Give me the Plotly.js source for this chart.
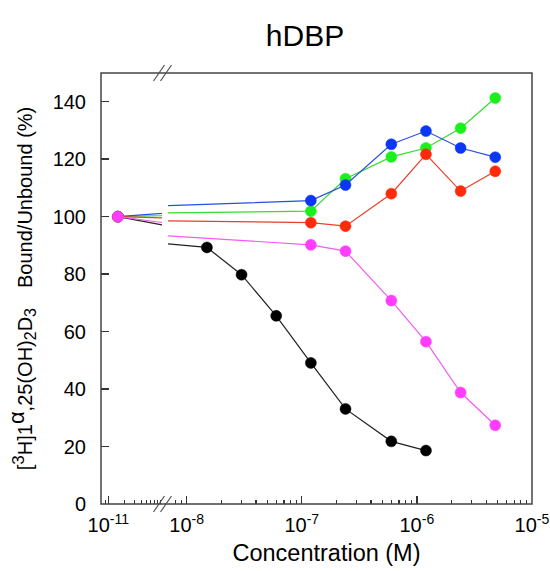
<!DOCTYPE html>
<html>
<head>
<meta charset="utf-8">
<script src="https://cdn.plot.ly/plotly-3.0.1.min.js"></script>
<style>html,body{margin:0;padding:0;background:#fff;}#chart{width:550px;height:571px;}</style>
</head>
<body>
<div id="chart"></div>
<script>
// ---- data ----
const controlConc = 1.5e-11;
const controlValue = 100;
const blackConc = [1.5e-8, 3e-8, 6e-8, 1.2e-7, 2.4e-7, 6e-7, 1.2e-6];
const blackVals = [89.3, 79.8, 65.5, 49.1, 33.1, 21.8, 18.6];
const colorConc = [1.2e-7, 2.4e-7, 6e-7, 1.2e-6, 2.4e-6, 4.8e-6];
const greenVals = [101.9, 113.2, 120.8, 123.9, 130.8, 141.3];
const blueVals = [105.6, 111.0, 125.2, 129.8, 123.9, 120.7];
const redVals = [97.9, 96.7, 108.0, 121.7, 108.9, 115.8];
const magentaVals = [90.2, 88.0, 70.8, 56.5, 38.8, 27.4];
const leftTickVals = [1e-11];
const leftTickText = ['10<sup>-11</sup>'];
const rightTickVals = [1e-8, 1e-7, 1e-6, 1e-5];
const rightTickText = ['10<sup>-8</sup>', '10<sup>-7</sup>', '10<sup>-6</sup>', '10<sup>-5</sup>'];
const leftMinor = [9e-12, 2e-11, 3e-11, 4e-11, 5e-11, 6e-11, 7e-11, 8e-11, 9e-11];
const rightMinor = [8e-9, 9e-9,
  2e-8, 3e-8, 4e-8, 5e-8, 6e-8, 7e-8, 8e-8, 9e-8,
  2e-7, 3e-7, 4e-7, 5e-7, 6e-7, 7e-7, 8e-7, 9e-7,
  2e-6, 3e-6, 4e-6, 5e-6, 6e-6, 7e-6, 8e-6, 9e-6];

const series = [
  {name: 'black', conc: blackConc, vals: blackVals, color: '#000000', line: '#222222'},
  {name: 'green', conc: colorConc, vals: greenVals, color: '#1cf01c', line: '#33dd33'},
  {name: 'blue', conc: colorConc, vals: blueVals, color: '#0a36f5', line: '#2a4ee0'},
  {name: 'red', conc: colorConc, vals: redVals, color: '#ff2a0a', line: '#e8402a'},
  {name: 'magenta', conc: colorConc, vals: magentaVals, color: '#ff3cff', line: '#f25cf2'}
];

const traces = [];
// carrier for the shared x-axis title (no data), drawn first so it sits underneath
traces.push({type: 'scatter', x: [], y: [], xaxis: 'x3', yaxis: 'y', showlegend: false, hoverinfo: 'skip'});
['x', 'x2'].forEach(function(ax) {
  series.forEach(function(s) {
    traces.push({
      type: 'scatter', mode: 'lines+markers', name: s.name,
      x: [controlConc].concat(s.conc),
      y: [controlValue].concat(s.vals),
      xaxis: ax, yaxis: 'y',
      line: {color: s.line, width: 1.2},
      marker: {color: s.color, size: 11, line: {color: s.color, width: 0.5}},
      showlegend: false, hoverinfo: 'x+y'
    });
  });
});

const axisColor = '#333333';
const fontFam = 'Liberation Sans, Arial, sans-serif';
const L = 101, R = 532;
const W = R - L;
function px(p) { return (p - L) / W; }

const breakShapes = [];
[159, 166].forEach(function(cx) {
  [0, 1].forEach(function(ya) {
    breakShapes.push({
      type: 'line', xref: 'paper', yref: 'paper',
      xsizemode: 'pixel', ysizemode: 'pixel',
      xanchor: px(cx), yanchor: ya,
      x0: -5.5, x1: 5.5, y0: -8, y1: 8,
      line: {color: '#555555', width: 1.2}
    });
  });
});

const yTitle = '[<sup><span style="font-size:17px">3</span></sup>H]1' +
  '<sup><span style="font-size:22px">\u03b1</span></sup>,25(OH)' +
  '<sub><span style="font-size:16px">2</span></sub>D' +
  '<sub><span style="font-size:16px">3</span></sub>\u2003Bound/Unbound (%)';

const layout = {
  width: 550, height: 571,
  margin: {l: L, r: 550 - R, t: 73, b: 67},
  paper_bgcolor: '#ffffff', plot_bgcolor: 'rgba(0,0,0,0)',
  font: {family: fontFam, color: '#000000', size: 20},
  title: {text: 'hDBP', font: {size: 30, family: fontFam, color: '#000'},
          xref: 'paper', x: px(305), xanchor: 'center',
          yref: 'container', y: 1 - 35 / 571, yanchor: 'middle'},
  xaxis: {
    type: 'log', domain: [0, px(162)], range: [-11.134, -10.015], anchor: 'y',
    tickmode: 'array', tickvals: leftTickVals, ticktext: leftTickText,
    ticks: 'inside', ticklen: 8, tickwidth: 1.5, tickcolor: axisColor,
    minor: {tickmode: 'array', tickvals: leftMinor, ticks: 'inside', ticklen: 4, tickwidth: 1.2, tickcolor: axisColor, showgrid: false},
    showgrid: false, zeroline: false, showline: false,
    ticklabelstandoff: 7,
    tickfont: {size: 20, family: fontFam}
  },
  xaxis2: {
    type: 'log', domain: [px(168), 1], range: [-8.162, -4.9995], anchor: 'y',
    tickmode: 'array', tickvals: rightTickVals, ticktext: rightTickText,
    ticks: 'inside', ticklen: 8, tickwidth: 1.5, tickcolor: axisColor,
    minor: {tickmode: 'array', tickvals: rightMinor, ticks: 'inside', ticklen: 4, tickwidth: 1.2, tickcolor: axisColor, showgrid: false},
    showgrid: false, zeroline: false, showline: false,
    ticklabelstandoff: 7,
    tickfont: {size: 20, family: fontFam}
  },
  xaxis3: {
    domain: [px(121), 1], range: [0, 1], anchor: 'y',
    showticklabels: false, ticks: '', showgrid: false, zeroline: false, showline: false,
    title: {text: 'Concentration (M)', font: {size: 23.5, family: fontFam}, standoff: 40}
  },
  yaxis: {
    range: [0, 150], tickmode: 'linear', tick0: 0, dtick: 20,
    ticks: 'inside', ticklen: 8, tickwidth: 1.5, tickcolor: axisColor,
    showgrid: false, zeroline: false, showline: false,
    ticklabelstandoff: 14,
    tickfont: {size: 20, family: fontFam},
    title: {text: yTitle, font: {size: 20, family: fontFam}, standoff: 14}
  },
  shapes: [{type: 'rect', xref: 'paper', yref: 'paper', x0: 0, x1: 1, y0: 0, y1: 1,
            line: {color: '#444444', width: 1.5}, fillcolor: 'rgba(0,0,0,0)', layer: 'above'}].concat(breakShapes)
};

Plotly.newPlot('chart', traces, layout, {displayModeBar: false, staticPlot: true});
</script>
</body>
</html>
